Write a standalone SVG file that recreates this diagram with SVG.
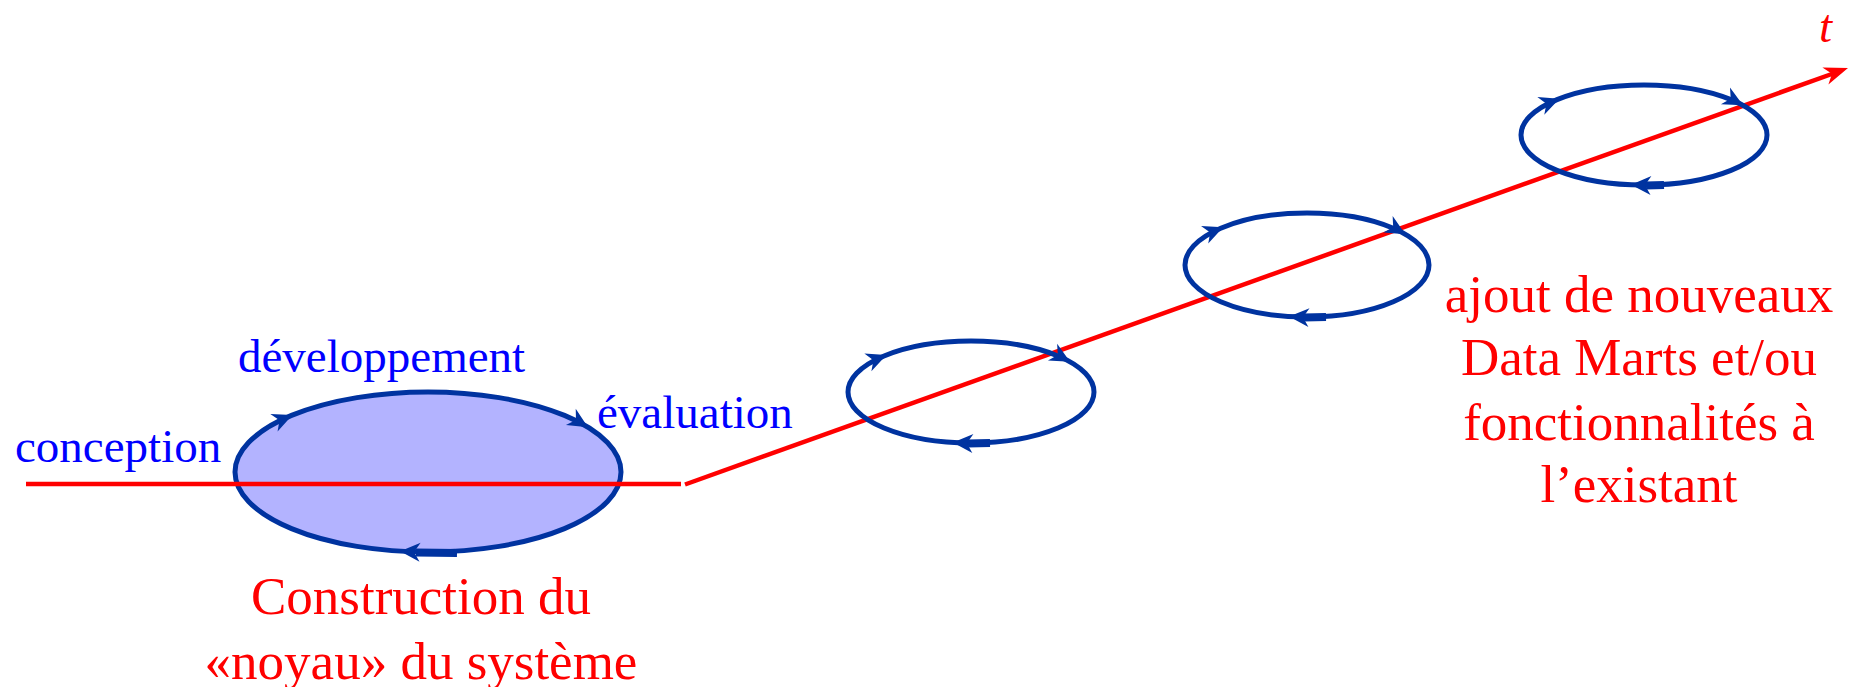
<svg xmlns="http://www.w3.org/2000/svg" width="1858" height="687" viewBox="0 0 1858 687">
  <style>
    .loop { fill: none; stroke: #0033a0; stroke-width: 5; }
    .core { fill: #b3b3ff; stroke: #0033a0; stroke-width: 5; }
    .axis { fill: none; stroke: #ff0000; stroke-width: 4.5; stroke-linecap: butt; }
    .ah { fill: #0033a0; }
    .thick { fill: none; stroke: #0033a0; stroke-width: 8; }
    .blue { font-family: "Liberation Serif", "Times New Roman", serif; font-size: 47px; fill: #0000ff; }
    .red { font-family: "Liberation Serif", "Times New Roman", serif; font-size: 53px; fill: #ff0000; text-anchor: middle; }
  </style>
  <defs>
    <path id="ah" d="M1,0 L-19,-9.5 L-13,0 L-19,9.5 Z"/>
  </defs>

  <g id="core-cycle">
    <ellipse class="core" cx="428" cy="472" rx="193" ry="80"/>
  </g>

  <g id="connectors">
    <line class="axis" x1="26" y1="484" x2="681" y2="484"/>
    <line class="axis" x1="685" y1="484.5" x2="1836" y2="72.5"/>
    <path fill="#ff0000" d="M1848,68 L1822.4,67.5 L1832,73.7 L1828.4,84.5 Z"/>
  </g>

  <g id="core-arrows">
    <use href="#ah" class="ah" transform="translate(291.5,415.4) rotate(-22.5)"/>
    <use href="#ah" class="ah" transform="translate(587.1,426.7) rotate(31.1)"/>
    <use href="#ah" class="ah" transform="translate(401.1,551.2) rotate(183.3)"/>
    <path class="thick" d="M416,552.5 L457,553"/>
  </g>

  <g id="loop1">
    <ellipse class="loop" cx="971" cy="392" rx="123" ry="51"/>
    <use href="#ah" class="ah" transform="translate(885.5,355.3) rotate(-21.8)"/>
    <use href="#ah" class="ah" transform="translate(1069.2,361.3) rotate(28.8)"/>
    <use href="#ah" class="ah" transform="translate(953.9,442.5) rotate(183.3)"/>
    <path class="thick" d="M968,443.5 L990,443"/>
  </g>

  <g id="loop2">
    <ellipse class="loop" cx="1307" cy="265" rx="122" ry="52"/>
    <use href="#ah" class="ah" transform="translate(1222.2,227.6) rotate(-22.4)"/>
    <use href="#ah" class="ah" transform="translate(1404.5,233.7) rotate(29.5)"/>
    <use href="#ah" class="ah" transform="translate(1290,316.5) rotate(183.4)"/>
    <path class="thick" d="M1304,317.5 L1326,317"/>
  </g>

  <g id="loop3">
    <ellipse class="loop" cx="1644" cy="135" rx="123" ry="50"/>
    <use href="#ah" class="ah" transform="translate(1558.5,99) rotate(-21.4)"/>
    <use href="#ah" class="ah" transform="translate(1742.2,104.9) rotate(28.3)"/>
    <use href="#ah" class="ah" transform="translate(1632,184.7) rotate(182.5)"/>
    <path class="thick" d="M1646,185.5 L1664,185"/>
  </g>

  <g id="labels">
    <text class="blue" x="15" y="462">conception</text>
    <text class="blue" x="238" y="372">développement</text>
    <text class="blue" x="597" y="428">évaluation</text>
    <text class="red" x="421" y="614">Construction du</text>
    <text class="red" x="421" y="679">«noyau» du système</text>
    <text class="red" x="1639" y="312">ajout de nouveaux</text>
    <text class="red" x="1639" y="375">Data Marts et/ou</text>
    <text class="red" x="1639" y="440">fonctionnalités à</text>
    <text class="red" x="1639" y="502">l’existant</text>
    <text x="1819" y="42" font-family="Liberation Serif, 'Times New Roman', serif" font-style="italic" font-size="47" fill="#ff0000">t</text>
  </g>
</svg>
